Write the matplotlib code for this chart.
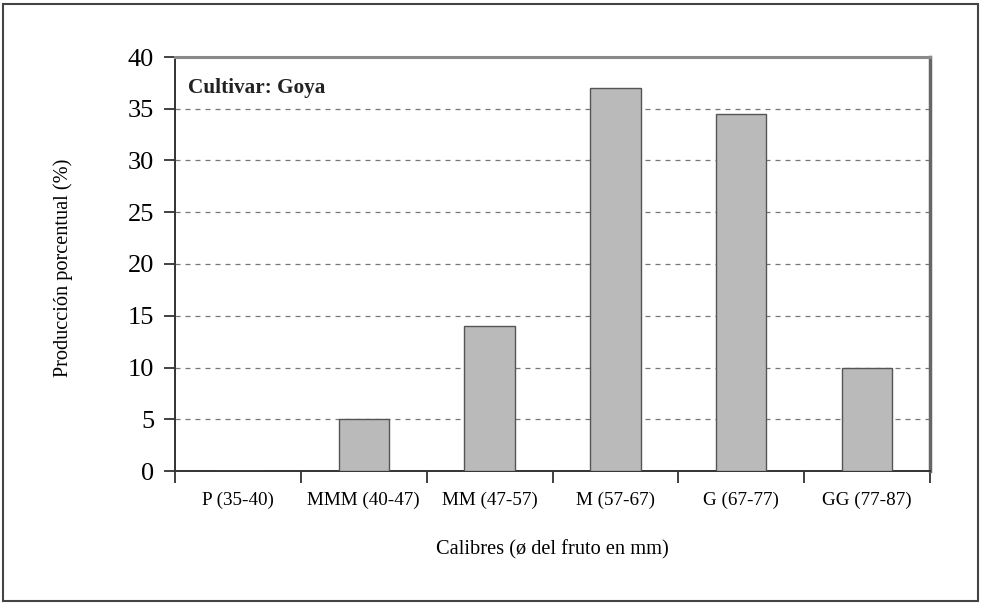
import matplotlib
matplotlib.use("Agg")
import matplotlib.pyplot as plt
from matplotlib.patches import Rectangle

categories = ["P (35-40)", "MMM (40-47)", "MM (47-57)", "M (57-67)", "G (67-77)", "GG (77-87)"]
values = [0, 5, 14, 37, 34.5, 10]
yticks = [0, 5, 10, 15, 20, 25, 30, 35, 40]

plt.rcParams['font.family'] = ['Liberation Serif', 'DejaVu Serif']

fig = plt.figure(figsize=(9.82, 6.04), dpi=100)
ax = fig.add_axes([175/982, 1 - 471/604, (930-175)/982, (471-57)/604])

x = list(range(len(categories)))
ax.bar(x, values, width=0.4, color="#bababa", edgecolor="#555555", linewidth=1.0, zorder=3)

ax.set_xlim(-0.5, len(categories) - 0.5)
ax.set_ylim(0, 40)
ax.set_yticks(yticks)
ax.set_yticklabels([str(v) for v in yticks], fontsize=19)
ax.set_xticks([i - 0.5 for i in range(len(categories) + 1)])
ax.set_xticklabels([])
ax.set_xticks(x, minor=True)
ax.set_xticklabels(categories, minor=True, fontsize=13.8)
ax.tick_params(axis='x', which='minor', length=0, pad=15)
ax.tick_params(axis='x', which='major', length=8.5, width=1.3, direction='out', color="#333333")
ax.tick_params(axis='y', length=8, width=1.3, direction='out', color="#333333", pad=7)

for y in yticks[1:-1]:
    ax.axhline(y, color="#777777", linestyle=(0, (4, 4)), linewidth=0.9, zorder=1)

ax.spines['left'].set_linewidth(1.4)
ax.spines['left'].set_color("#333333")
ax.spines['bottom'].set_linewidth(1.4)
ax.spines['bottom'].set_color("#333333")
ax.spines['top'].set_color("#8a8a8a")
ax.spines['top'].set_linewidth(2.2)
ax.spines['right'].set_color("#666666")
ax.spines['right'].set_linewidth(2.5)

ax.set_ylabel("Producción porcentual (%)", fontsize=14.6)
ax.yaxis.set_label_coords(-0.135, 0.49)
ax.set_xlabel("Calibres (ø del fruto en mm)", fontsize=14.7)
ax.xaxis.set_label_coords(0.5, -0.167)
ax.text(0.017, 0.925, "Cultivar: Goya", transform=ax.transAxes, fontsize=15.3,
        fontweight='bold', va='center', ha='left', color="#222222")

fig.patches.append(Rectangle((3/982, 3/604), 975/982, 597/604, transform=fig.transFigure,
                             fill=False, edgecolor="#444444", linewidth=1.5))

fig.savefig("out.png", dpi=100)
